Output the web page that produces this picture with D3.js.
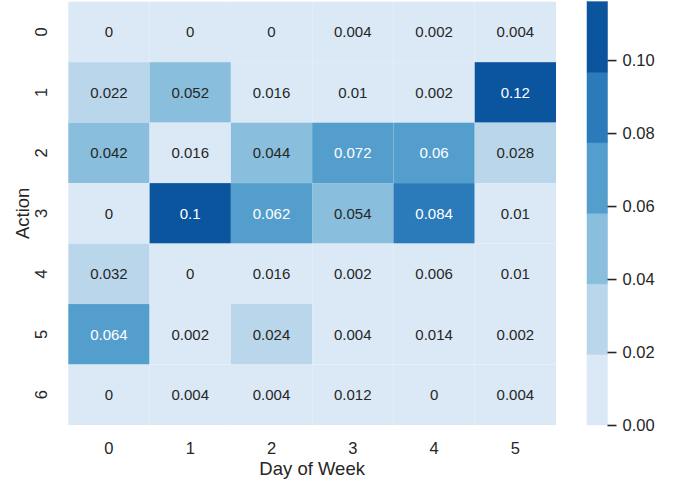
<!DOCTYPE html>
<html>
<head>
<meta charset="utf-8">
<script src="https://cdn.jsdelivr.net/npm/d3@7"></script>
<style>
  html, body { margin: 0; padding: 0; background: #fff; }
  svg text { font-family: "Liberation Sans", Arial, sans-serif; fill: #262626; }
</style>
</head>
<body>
<svg id="chart" width="686" height="483"></svg>
<script>
const days = ["0", "1", "2", "3", "4", "5"];
const actions = ["0", "1", "2", "3", "4", "5", "6"];
const action0 = [0, 0, 0, 0.004, 0.002, 0.004];
const action1 = [0.022, 0.052, 0.016, 0.01, 0.002, 0.116];
const action2 = [0.042, 0.016, 0.044, 0.072, 0.06, 0.028];
const action3 = [0, 0.1, 0.062, 0.054, 0.084, 0.01];
const action4 = [0.032, 0, 0.016, 0.002, 0.006, 0.01];
const action5 = [0.064, 0.002, 0.024, 0.004, 0.014, 0.002];
const action6 = [0, 0.004, 0.004, 0.012, 0, 0.004];
const colorbarTicks = [0, 0.02, 0.04, 0.06, 0.08, 0.10];
const palette = ["#dbe9f6", "#bad6eb", "#89bedc", "#539ecd", "#2b7bba", "#0b559f"];

(function () {
const rows = [action0, action1, action2, action3, action4, action5, action6];
const cells = [];
rows.forEach((r, i) => r.forEach((v, j) => cells.push({ action: actions[i], day: days[j], value: v })));

const svg = d3.select("#chart");
const mLeft = 68.3, mRight = 556, mTop = 1.7, mBottom = 425;

const x = d3.scaleBand().domain(days).range([mLeft, mRight]).padding(0);
const y = d3.scaleBand().domain(actions).range([mTop, mBottom]).padding(0);
const vmax = d3.max(cells, d => d.value);
const color = d3.scaleQuantize().domain([0, vmax]).range(palette);
const fmt = d3.format(".2~g");

svg.append("g").selectAll("rect").data(cells).join("rect")
  .attr("x", d => x(d.day)).attr("y", d => y(d.action))
  .attr("width", x.bandwidth()).attr("height", y.bandwidth())
  .attr("fill", d => color(d.value));

svg.append("g").selectAll("text").data(cells).join("text")
  .attr("x", d => x(d.day) + x.bandwidth() / 2)
  .attr("y", d => y(d.action) + y.bandwidth() / 2)
  .attr("dy", "0.36em")
  .attr("text-anchor", "middle")
  .style("font-size", "15px")
  .style("fill", d => palette.indexOf(color(d.value)) >= 3 ? "#ffffff" : "#262626")
  .text(d => fmt(d.value));

svg.append("g").selectAll("text").data(days).join("text")
  .attr("x", d => x(d) + x.bandwidth() / 2)
  .attr("y", 454)
  .attr("text-anchor", "middle")
  .style("font-size", "16.5px")
  .text(d => d);

svg.append("g").selectAll("text").data(actions).join("text")
  .attr("transform", d => `translate(47,${y(d) + y.bandwidth() / 2}) rotate(-90)`)
  .attr("text-anchor", "middle")
  .style("font-size", "16.5px")
  .text(d => d);

svg.append("text")
  .attr("x", (mLeft + mRight) / 2).attr("y", 475)
  .attr("text-anchor", "middle")
  .style("font-size", "18.5px")
  .text("Day of Week");

svg.append("text")
  .attr("transform", `translate(28.5,${(mTop + mBottom) / 2}) rotate(-90)`)
  .attr("text-anchor", "middle")
  .style("font-size", "18.5px")
  .text("Action");

const cbLeft = 587, cbRight = 607.5;
const cy = d3.scaleLinear().domain([0, vmax]).range([mBottom, mTop]);
const bands = palette.map(c => {
  const ext = color.invertExtent(c);
  return { c, lo: ext[0], hi: ext[1] };
});
svg.append("g").selectAll("rect").data(bands).join("rect")
  .attr("x", cbLeft).attr("width", cbRight - cbLeft)
  .attr("y", d => cy(d.hi)).attr("height", d => cy(d.lo) - cy(d.hi))
  .attr("fill", d => d.c)
  .attr("stroke", d => d.c).attr("stroke-width", 0.5);

const cbAxis = d3.axisRight(cy).tickValues(colorbarTicks).tickFormat(d3.format(".2f")).tickSize(9).tickPadding(6);
const ga = svg.append("g").attr("transform", `translate(${cbRight},0)`).call(cbAxis);
ga.select(".domain").remove();
ga.selectAll(".tick line").attr("stroke", "#262626").attr("stroke-width", 1.6);
ga.selectAll(".tick text").style("font-size", "16.5px").style("font-family", "'Liberation Sans', Arial, sans-serif").attr("fill", "#262626");
})();
</script>
</body>
</html>
